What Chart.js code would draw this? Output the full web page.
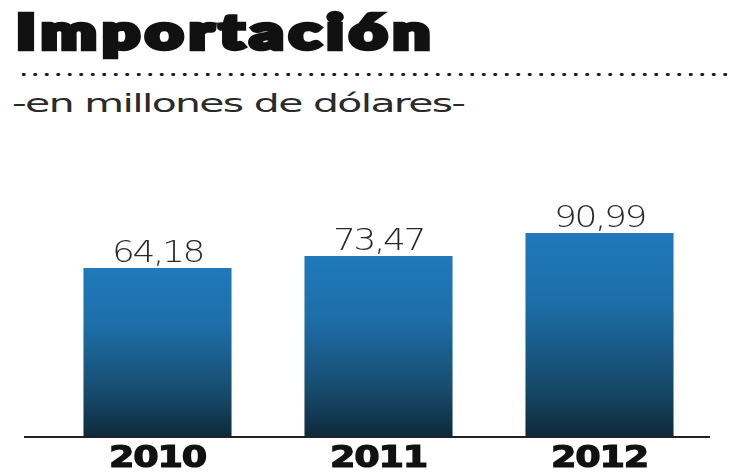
<!DOCTYPE html>
<html lang="es">
<head>
<meta charset="utf-8">
<title>Importación</title>
<script src="https://cdn.jsdelivr.net/npm/chart.js@4.4.1/dist/chart.umd.min.js"></script>
<style>
  html, body { margin: 0; padding: 0; background: #fff; }
  #lienzo { position: relative; width: 730px; height: 473px; overflow: hidden; }
  .titulo {
    position: absolute; left: 16px; top: 8px; margin: 0;
    font: 900 47px/47px Lato, "DejaVu Sans", sans-serif; color: #111;
    letter-spacing: 4px;
    -webkit-text-stroke: 4.5px #111; paint-order: stroke fill;
    display: inline-block; white-space: nowrap; transform-origin: 0 0;
  }
  .puntos {
    position: absolute; left: 18px; top: 72px; width: 710px; height: 5px;
    background-image: radial-gradient(ellipse 2.2px 1.7px, #1a1a1a 80%, transparent 100%);
    background-size: 11.5px 5px; background-position: 0 0;
  }
  .subtitulo {
    position: absolute; left: 12px; top: 91px; margin: 0;
    font: 400 25px/25px "DejaVu Sans", sans-serif; color: #2a2a2a;
    letter-spacing: -1px;
    display: inline-block; white-space: nowrap; transform-origin: 0 0;
  }
  canvas { position: absolute; left: 0; top: 0; }
</style>
</head>
<body>
<div id="lienzo">
  <h1 class="titulo" id="titulo">Importación</h1>
  <div class="puntos"></div>
  <p class="subtitulo" id="subtitulo">-en millones de dólares-</p>
  <canvas id="grafica" width="730" height="473"></canvas>
</div>
<script>
// datos de la grafica
const anios = ['2010', '2011', '2012'];
const importacion = [64.18, 73.47, 90.99];
// rango del eje vertical (la base no parte de cero)
const ejeMin = -64.5;
const ejeMax = 124;

// estira un texto hasta el ancho deseado
function ajustarAncho(id, ancho) {
    const el = document.getElementById(id);
    el.style.transform = 'scaleX(' + (ancho / el.offsetWidth) + ')';
}

// degradado azul de arriba hacia abajo en cada barra
function colorBarra(context) {
    const chart = context.chart;
    const area = chart.chartArea;
    if (!area || !chart.scales.y) {
        return '#1f74b0';
    }
    const yTop = chart.scales.y.getPixelForValue(importacion[context.dataIndex]);
    const g = chart.ctx.createLinearGradient(0, yTop, 0, area.bottom);
    g.addColorStop(0, '#2079bb');
    g.addColorStop(0.35, '#1d6ea8');
    g.addColorStop(0.75, '#174a6b');
    g.addColorStop(1, '#0e2a3c');
    return g;
}

// linea base, valores y años
const etiquetas = {
    id: 'etiquetas',
    afterDatasetsDraw(chart) {
        const ctx = chart.ctx;
        const area = chart.chartArea;
        const meta = chart.getDatasetMeta(0);

        ctx.save();
        ctx.strokeStyle = '#222';
        ctx.lineWidth = 2;
        ctx.beginPath();
        ctx.moveTo(area.left - 23, area.bottom + 1);
        ctx.lineTo(area.right, area.bottom + 1);
        ctx.stroke();

        ctx.textAlign = 'center';
        ctx.textBaseline = 'alphabetic';
        meta.data.forEach((barra, i) => {
            // valor encima de la barra
            ctx.save();
            ctx.fillStyle = '#2a2a2a';
            ctx.font = '200 30px "DejaVu Sans"';
            ctx.letterSpacing = '-2px';
            ctx.translate(barra.x, barra.y - 6);
            ctx.scale(1.2, 1);
            ctx.fillText(importacion[i].toFixed(2).replace('.', ','), 0, 0);
            ctx.restore();

            // año debajo de la linea base
            ctx.save();
            ctx.fillStyle = '#111';
            ctx.strokeStyle = '#111';
            ctx.lineWidth = 1.2;
            ctx.font = 'bold 30px "DejaVu Sans"';
            ctx.letterSpacing = '-1px';
            ctx.translate(barra.x, 467);
            ctx.scale(1.22, 1);
            ctx.fillText(anios[i], 0, 0);
            ctx.strokeText(anios[i], 0, 0);
            ctx.restore();
        });
        ctx.restore();
    }
};

const ctx = document.getElementById('grafica').getContext('2d');
new Chart(ctx, {
    type: 'bar',
    data: {
        labels: anios,
        datasets: [{
            label: 'Importación',
            data: importacion,
            base: ejeMin,
            backgroundColor: colorBarra,
            borderWidth: 0,
            barPercentage: 0.67,
            categoryPercentage: 1
        }]
    },
    options: {
        responsive: false,
        animation: false,
        layout: { padding: { left: 47, right: 20, top: 190, bottom: 37 } },
        plugins: {
            legend: { display: false },
            tooltip: { enabled: false }
        },
        scales: {
            x: { display: false },
            y: { display: false, min: ejeMin, max: ejeMax }
        }
    },
    plugins: [etiquetas]
});

document.fonts.ready.then(function () {
    ajustarAncho('titulo', 420);
    ajustarAncho('subtitulo', 453);
});
</script>
</body>
</html>
